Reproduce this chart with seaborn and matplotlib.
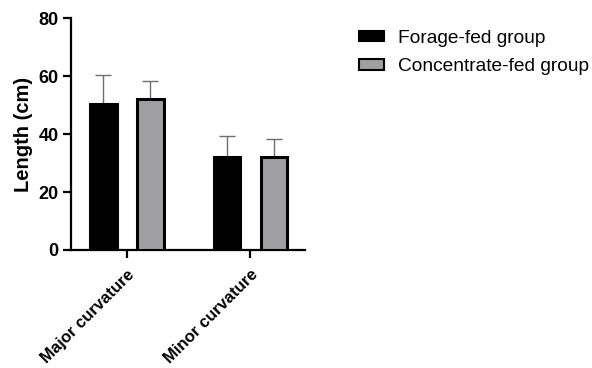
import pandas as pd
import matplotlib.pyplot as plt
import seaborn as sns
from matplotlib.patches import Patch

categories = ['Major curvature', 'Minor curvature']
groups = ['Forage-fed group', 'Concentrate-fed group']
forage_mean = [50.4, 32.0]
forage_sd = [10.0, 7.3]
concentrate_mean = [52.1, 32.0]
concentrate_sd = [6.2, 6.2]

colors = ['#000000', '#a0a0a3']

df = pd.DataFrame({
    'Region': categories * 2,
    'Group': [groups[0]] * 2 + [groups[1]] * 2,
    'Length': forage_mean + concentrate_mean,
    'SD': forage_sd + concentrate_sd,
})

sns.set_style('ticks')
plt.rcParams['font.family'] = ['Liberation Sans', 'DejaVu Sans']
plt.rcParams.update({'text.color': 'black', 'axes.labelcolor': 'black',
                     'xtick.color': 'black', 'ytick.color': 'black',
                     'axes.edgecolor': 'black'})

fig = plt.figure(figsize=(5.92, 3.68), dpi=100)
ax = fig.add_axes([0.12, 0.3207, 0.395, 0.630])

sns.barplot(data=df, x='Region', y='Length', hue='Group', palette=colors,
            width=0.76, gap=0.43, edgecolor='black', linewidth=2.2,
            errorbar=None, legend=False, ax=ax, zorder=3)

# upper-only error bars at the bar centres
bars = ax.patches
for bar, sd in zip(bars, df['SD']):
    cx = bar.get_x() + bar.get_width() / 2
    ax.errorbar(cx, bar.get_height(), yerr=[[0], [sd]], color='#6e6e6e',
                elinewidth=1.0, capsize=5.5, capthick=1.0, zorder=2)

ax.set_ylim(0, 80)
ax.set_xlim(-0.45, 1.44)
ax.set_yticks([0, 20, 40, 60, 80])
ax.set_xlabel('')
ax.set_ylabel('Length (cm)', fontsize=14.5, fontweight='bold', labelpad=4)
sns.despine(ax=ax)
for s in ['left', 'bottom']:
    ax.spines[s].set_linewidth(1.6)
ax.tick_params(axis='both', length=6, width=1.6, pad=3, labelsize=13)
ax.tick_params(axis='x', pad=6)
for lbl in ax.get_yticklabels():
    lbl.set_fontweight('bold')
ax.set_xticks(range(len(categories)))
ax.set_xticklabels(categories, rotation=45, ha='right', rotation_mode='anchor',
                   fontsize=12, fontweight='bold')

handles = [Patch(facecolor=c, edgecolor='black', linewidth=1.5) for c in colors]
fig.legend(handles, groups, loc='upper left', bbox_to_anchor=(0.59, 0.945),
           frameon=False, fontsize=13.8, handlelength=1.3, handleheight=0.5,
           handletextpad=0.75, labelspacing=0.58, borderpad=0)

plt.savefig('out.png', dpi=100)
plt.close()
